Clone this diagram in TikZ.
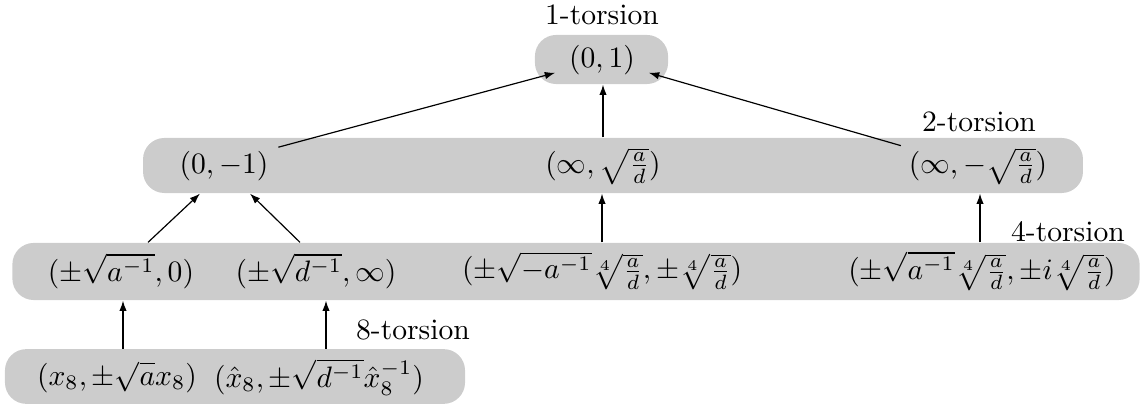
\documentclass[tikz,border=0pt]{standalone}
\usetikzlibrary{arrows.meta,calc}
\tikzset{
  band/.style={fill=black!20, draw=none, rounded corners=7.2pt, inner sep=0pt},
  pt/.style={inner sep=0pt, outer sep=0pt},
  lbl/.style={inner sep=0pt},
  arr/.style={line width=0.4pt, -{Latex[length=3.5pt,width=2.5pt]}}
}
\begin{document}
\begin{tikzpicture}[x=0.338pt,y=-0.338pt]
\useasboundingbox (0,0) rectangle (1148,406);
% bands
\node[band, minimum width=45pt, minimum height=16.6pt] (B1) at (601.5,59.5) {};
\node[band, minimum width=317.7pt, minimum height=18.6pt] (B2) at (613,165.5) {};
\node[band, minimum width=381pt, minimum height=19.3pt] (B3) at (576,271.5) {};
\node[band, minimum width=155.5pt, minimum height=18.5pt] (B4) at (235,376.5) {};
% labels
\node[lbl] (L1) at (602,15) {1-torsion};
\node[lbl] (L2) at (979,122) {2-torsion};
\node[lbl] (L4) at (1068,232) {4-torsion};
\node[lbl] (L8) at (413,330) {8-torsion};
% points
\node[pt] (p01) at (602,60) {$(0,1)$};
\node[pt] (pm1) at (224,166) {$(0,-1)$};
\node[pt] (pi1) at (603,166) {$(\infty,\sqrt{\frac{a}{d}})$};
\node[pt] (pi2) at (978,166) {$(\infty,-\sqrt{\frac{a}{d}})$};
\node[pt] (qa) at (121,271) {$(\pm\sqrt{a^{-1}},0)$};
\node[pt] (qd) at (316,271) {$(\pm\sqrt{d^{-1}},\infty)$};
\node[pt] (qc) at (602,271) {$(\pm\sqrt{-a^{-1}}\sqrt[4]{\frac{a}{d}},\pm\sqrt[4]{\frac{a}{d}})$};
\node[pt] (qe) at (982,271) {$(\pm\sqrt{a^{-1}}\sqrt[4]{\frac{a}{d}},\pm i\sqrt[4]{\frac{a}{d}})$};
\node[pt] (r1) at (117,377) {$(x_8,\pm\sqrt{a}x_8)$};
\node[pt] (r2) at (319,377) {$(\hat{x}_8,\pm\sqrt{d^{-1}}\hat{x}_8^{-1})$};
% helper coordinates
\coordinate (ha) at ($(qa.north)+(27,0)$);
\coordinate (hd) at ($(qd.north)+(-16,0)$);
\coordinate (hm1) at ($(pm1.south)+(-24,0)$);
\coordinate (hm2) at ($(pm1.south)+(26,0)$);
\coordinate (he) at ($(qe.north)+(-2,0)$);
\coordinate (hr1) at ($(r1.north)+(6,0)$);
\coordinate (hr2) at ($(r2.north)+(7,0)$);
% arrows
\draw[arr] ($(pm1.north east)+(10,-4)$) -- ($(p01.south west)+(-14,-2)$);
\draw[arr] (pi1 |- B2.north) -- (pi1 |- B1.south);
\draw[arr] ($(pi2.north west)+(-8,-2)$) -- ($(p01.south east)+(14,-2)$);
\draw[arr] (ha |- B3.north) -- (hm1 |- B2.south);
\draw[arr] (hd |- B3.north) -- (hm2 |- B2.south);
\draw[arr] (qc |- B3.north) -- (qc |- B2.south);
\draw[arr] (he |- B3.north) -- (he |- B2.south);
\draw[arr] (hr1 |- B4.north) -- (hr1 |- B3.south);
\draw[arr] (hr2 |- B4.north) -- (hr2 |- B3.south);
\end{tikzpicture}
\end{document}
